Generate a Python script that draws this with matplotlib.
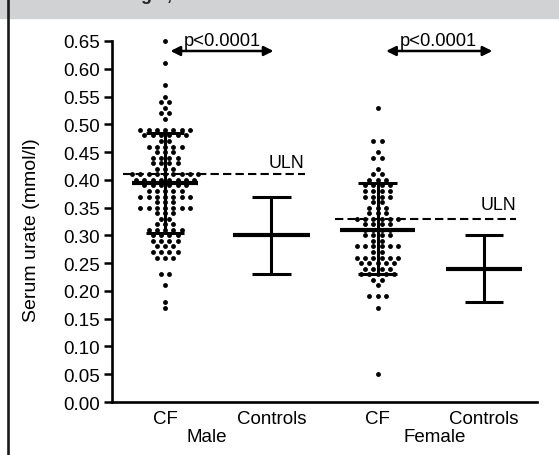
import numpy as np
import matplotlib.pyplot as plt
from matplotlib.lines import Line2D
from matplotlib.patches import Rectangle

plt.rcParams["font.family"] = ["Liberation Sans", "DejaVu Sans"]

# ---- data (serum urate, mmol/l) ----
groups = ["CF", "Controls", "CF", "Controls"]
sexes = ["Male", "Female"]

male_cf = [
    0.65, 0.61, 0.57, 0.55, 0.54, 0.54, 0.53, 0.52, 0.52, 0.51,
    0.49, 0.49, 0.49, 0.49, 0.49, 0.49, 0.49,
    0.48, 0.48, 0.48, 0.48, 0.48, 0.48, 0.47, 0.47,
    0.46, 0.46, 0.46, 0.46, 0.46, 0.45, 0.45, 0.45,
    0.44, 0.44, 0.44, 0.44, 0.43, 0.43, 0.43, 0.43, 0.42, 0.42, 0.42,
    0.41, 0.41, 0.41, 0.41, 0.41, 0.41, 0.41, 0.41, 0.41,
    0.40, 0.40, 0.40, 0.40, 0.40, 0.40, 0.40, 0.40,
    0.39, 0.39, 0.39, 0.39, 0.39, 0.39, 0.38, 0.38, 0.38, 0.38, 0.38,
    0.37, 0.37, 0.37, 0.37, 0.37, 0.37, 0.37, 0.36, 0.36, 0.36,
    0.35, 0.35, 0.35, 0.35, 0.35, 0.35, 0.35, 0.34, 0.34, 0.34,
    0.33, 0.33, 0.32, 0.32, 0.32, 0.31, 0.31, 0.31, 0.31, 0.31,
    0.30, 0.30, 0.30, 0.30, 0.29, 0.29, 0.29, 0.29, 0.28, 0.28, 0.28,
    0.27, 0.27, 0.27, 0.27, 0.26, 0.26, 0.26, 0.23, 0.23, 0.21, 0.18, 0.17,
]
female_cf = [
    0.53, 0.47, 0.47, 0.45, 0.44, 0.44, 0.42, 0.41, 0.41,
    0.40, 0.40, 0.40, 0.39, 0.39, 0.39, 0.39, 0.38, 0.38, 0.38, 0.38,
    0.37, 0.37, 0.37, 0.37, 0.36, 0.36, 0.35, 0.35, 0.35, 0.34, 0.34, 0.34,
    0.33, 0.33, 0.33, 0.33, 0.33, 0.33, 0.32, 0.32, 0.32, 0.32,
    0.31, 0.31, 0.31, 0.31, 0.30, 0.30, 0.30, 0.30, 0.29, 0.29,
    0.28, 0.28, 0.28, 0.28, 0.28, 0.28, 0.27, 0.27,
    0.26, 0.26, 0.26, 0.26, 0.26, 0.26, 0.25, 0.25, 0.25, 0.25, 0.25,
    0.24, 0.24, 0.24, 0.24, 0.23, 0.23, 0.23, 0.23, 0.23, 0.22, 0.22,
    0.21, 0.19, 0.19, 0.19, 0.17, 0.05,
]

means = [0.395, 0.30, 0.31, 0.24]
sd_low = [0.305, 0.23, 0.23, 0.18]
sd_high = [0.485, 0.37, 0.395, 0.30]
uln = [0.41, 0.33]
p_text = ["p<0.0001", "p<0.0001"]

# ---- figure ----
fig = plt.figure(figsize=(5.59, 4.56), dpi=100)
fig.patches.append(Rectangle((0, 0.958), 1, 0.042, transform=fig.transFigure,
                             color="#d1d2d4", zorder=0))
fig.lines.append(Line2D([0.0152, 0.0152], [0, 1], transform=fig.transFigure,
                        color="#1a1a1a", lw=1.9))
# top of the panel title is cropped in the source picture
fig.text(141 / 559, 1.0, "ge ,", fontsize=13, fontweight="bold",
         va="baseline", ha="left", color="#222222")

ax = fig.add_axes([0.2004, 0.1162, 0.7602, 0.7917])

pos = np.arange(4)
step = 0.078


def dot_columns(values, centre):
    vals, counts = np.unique(np.round(values, 3), return_counts=True)
    xs, ys = [], []
    for v, n in zip(vals, counts):
        offs = (np.arange(n) - (n - 1) / 2) * step
        xs.extend(centre + offs)
        ys.extend([v] * n)
    return xs, ys


for data, c in [(male_cf, pos[0]), (female_cf, pos[2])]:
    x, y = dot_columns(data, c)
    ax.plot(x, y, "o", color="black", ms=3.5, mew=0, clip_on=False, zorder=3)

half_mean = [0.31, 0.36, 0.35, 0.36]
cap = 0.18
for i in range(4):
    ax.hlines(means[i], pos[i] - half_mean[i], pos[i] + half_mean[i],
              color="black", lw=3.0, zorder=4)
    ax.vlines(pos[i], sd_low[i], sd_high[i], color="black", lw=2.2, zorder=4)
    ax.hlines([sd_low[i], sd_high[i]], pos[i] - cap, pos[i] + cap,
              color="black", lw=2.2, zorder=4)

# upper limit of normal
ax.plot([-0.40, 1.32], [uln[0], uln[0]], color="black", lw=1.5,
        dashes=(4, 2), zorder=2)
ax.plot([1.60, 3.30], [uln[1], uln[1]], color="black", lw=1.5,
        dashes=(4, 2), zorder=2)
ax.text(0.97, uln[0] + 0.013, "ULN", fontsize=12.8, va="baseline")
ax.text(2.97, uln[1] + 0.018, "ULN", fontsize=12.8, va="baseline")

# significance arrows
for (x0, x1), t, xt in [((0.05, 1.02), p_text[0], 0.54),
                        ((2.08, 3.08), p_text[1], 2.57)]:
    ax.annotate("", xy=(x1, 0.632), xytext=(x0, 0.632),
                arrowprops=dict(arrowstyle="<|-|>", lw=1.8, color="black",
                                mutation_scale=14, shrinkA=0, shrinkB=0),
                annotation_clip=False)
    ax.text(xt, 0.636, t, fontsize=13.2, ha="center", va="bottom")

ax.set_xlim(-0.5, 3.5)
ax.set_ylim(0, 0.65)
ax.set_yticks(np.arange(0, 0.651, 0.05))
ax.set_yticklabels([f"{v:.2f}" for v in np.arange(0, 0.651, 0.05)])
ax.set_xticks(pos)
ax.set_xticklabels(groups)
ax.tick_params(axis="y", direction="out", length=6, width=1.8,
               labelsize=13.5, pad=3)
ax.tick_params(axis="x", length=0, labelsize=13.5, pad=6)
for s in ["top", "right"]:
    ax.spines[s].set_visible(False)
for s in ["left", "bottom"]:
    ax.spines[s].set_linewidth(1.9)
ax.set_ylabel("Serum urate (mmol/l)", fontsize=14)
ax.yaxis.set_label_coords(-0.17, 0.48)

ax.text(0.39, -0.046, sexes[0], fontsize=13.5, ha="center", va="top")
ax.text(2.54, -0.046, sexes[1], fontsize=13.5, ha="center", va="top")

fig.savefig("out.png", dpi=100)
